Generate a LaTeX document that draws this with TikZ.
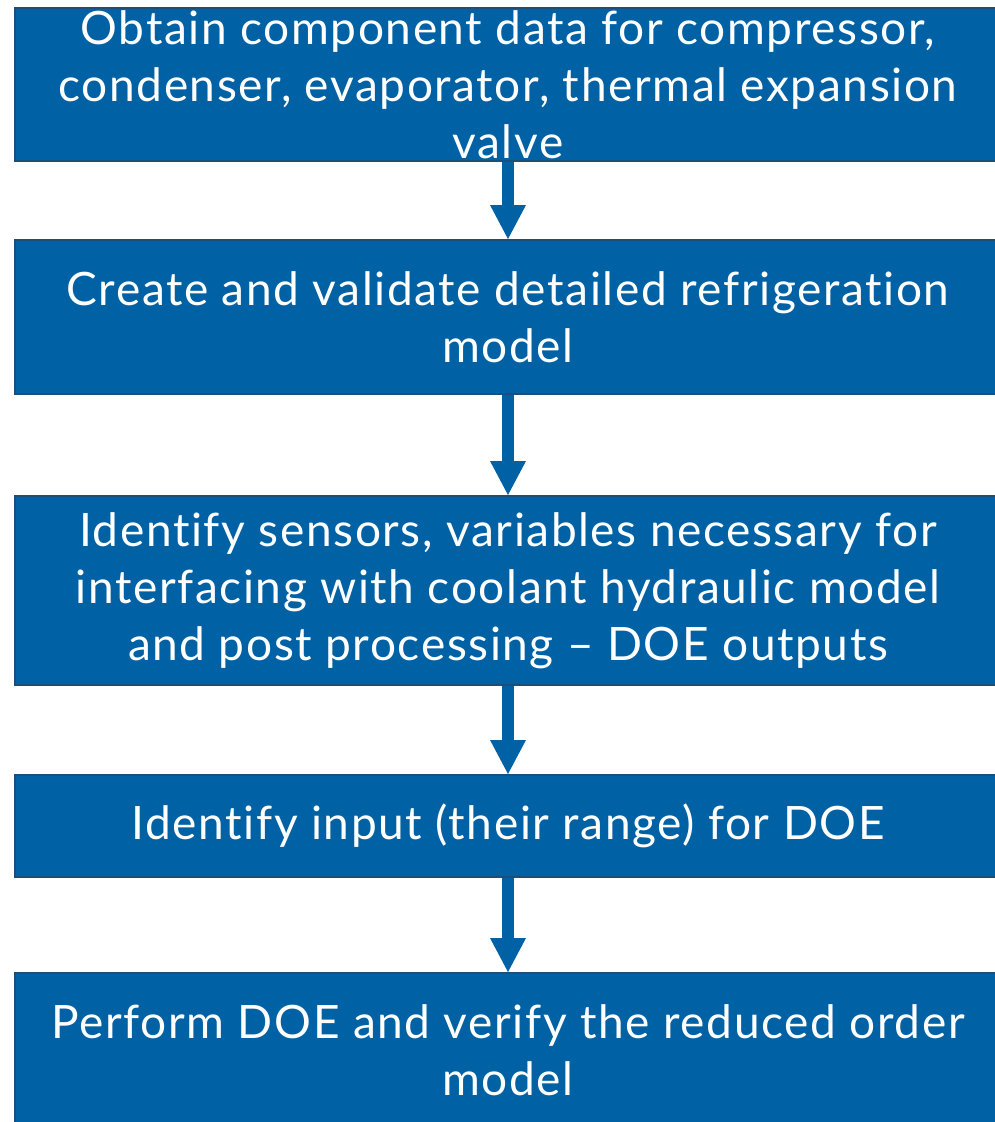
\documentclass[tikz,border=0pt]{standalone}
\usepackage{fontspec}
\setmainfont{Lato}[Ligatures=NoCommon, LetterSpace=3.5]
\usetikzlibrary{arrows.meta}
\definecolor{boxfill}{RGB}{0,98,164}
\definecolor{boxedge}{RGB}{28,78,122}
\tikzset{
  stepbox/.style={rectangle, fill=boxfill, draw=boxedge, line width=2pt,
    minimum width=986pt, text=white, align=center, inner sep=0pt,
    font=\fontsize{46}{57}\selectfont},
  flowarrow/.style={draw=boxfill, line width=12pt,
    -{Triangle[width=36pt,length=34pt,line width=0pt]}}
}
\begin{document}
\begin{tikzpicture}[x=1pt,y=-1pt]
  \useasboundingbox (0,0) rectangle (994,1122);
  \node[stepbox, minimum height=153pt] (b1) at (508,84.5)
    {Obtain component data for compressor,\\condenser, evaporator, thermal expansion\\valve};
  \node[stepbox, minimum height=154pt] (b2) at (508,317)
    {Create and validate detailed refrigeration\\model};
  \node[stepbox, minimum height=189pt] (b3) at (508,590.5)
    {Identify sensors, variables necessary for\\interfacing with coolant hydraulic model\\and post processing -- DOE outputs};
  \node[stepbox, minimum height=102pt] (b4) at (508,826)
    {Identify input (their range) for DOE};
  \node[stepbox, minimum height=154pt] (b5) at (508,1050)
    {Perform DOE and verify the reduced order\\model};
  \draw[flowarrow] (b1.south) -- (b2.north);
  \draw[flowarrow] (b2.south) -- (b3.north);
  \draw[flowarrow] (b3.south) -- (b4.north);
  \draw[flowarrow] (b4.south) -- (b5.north);
\end{tikzpicture}
\end{document}
